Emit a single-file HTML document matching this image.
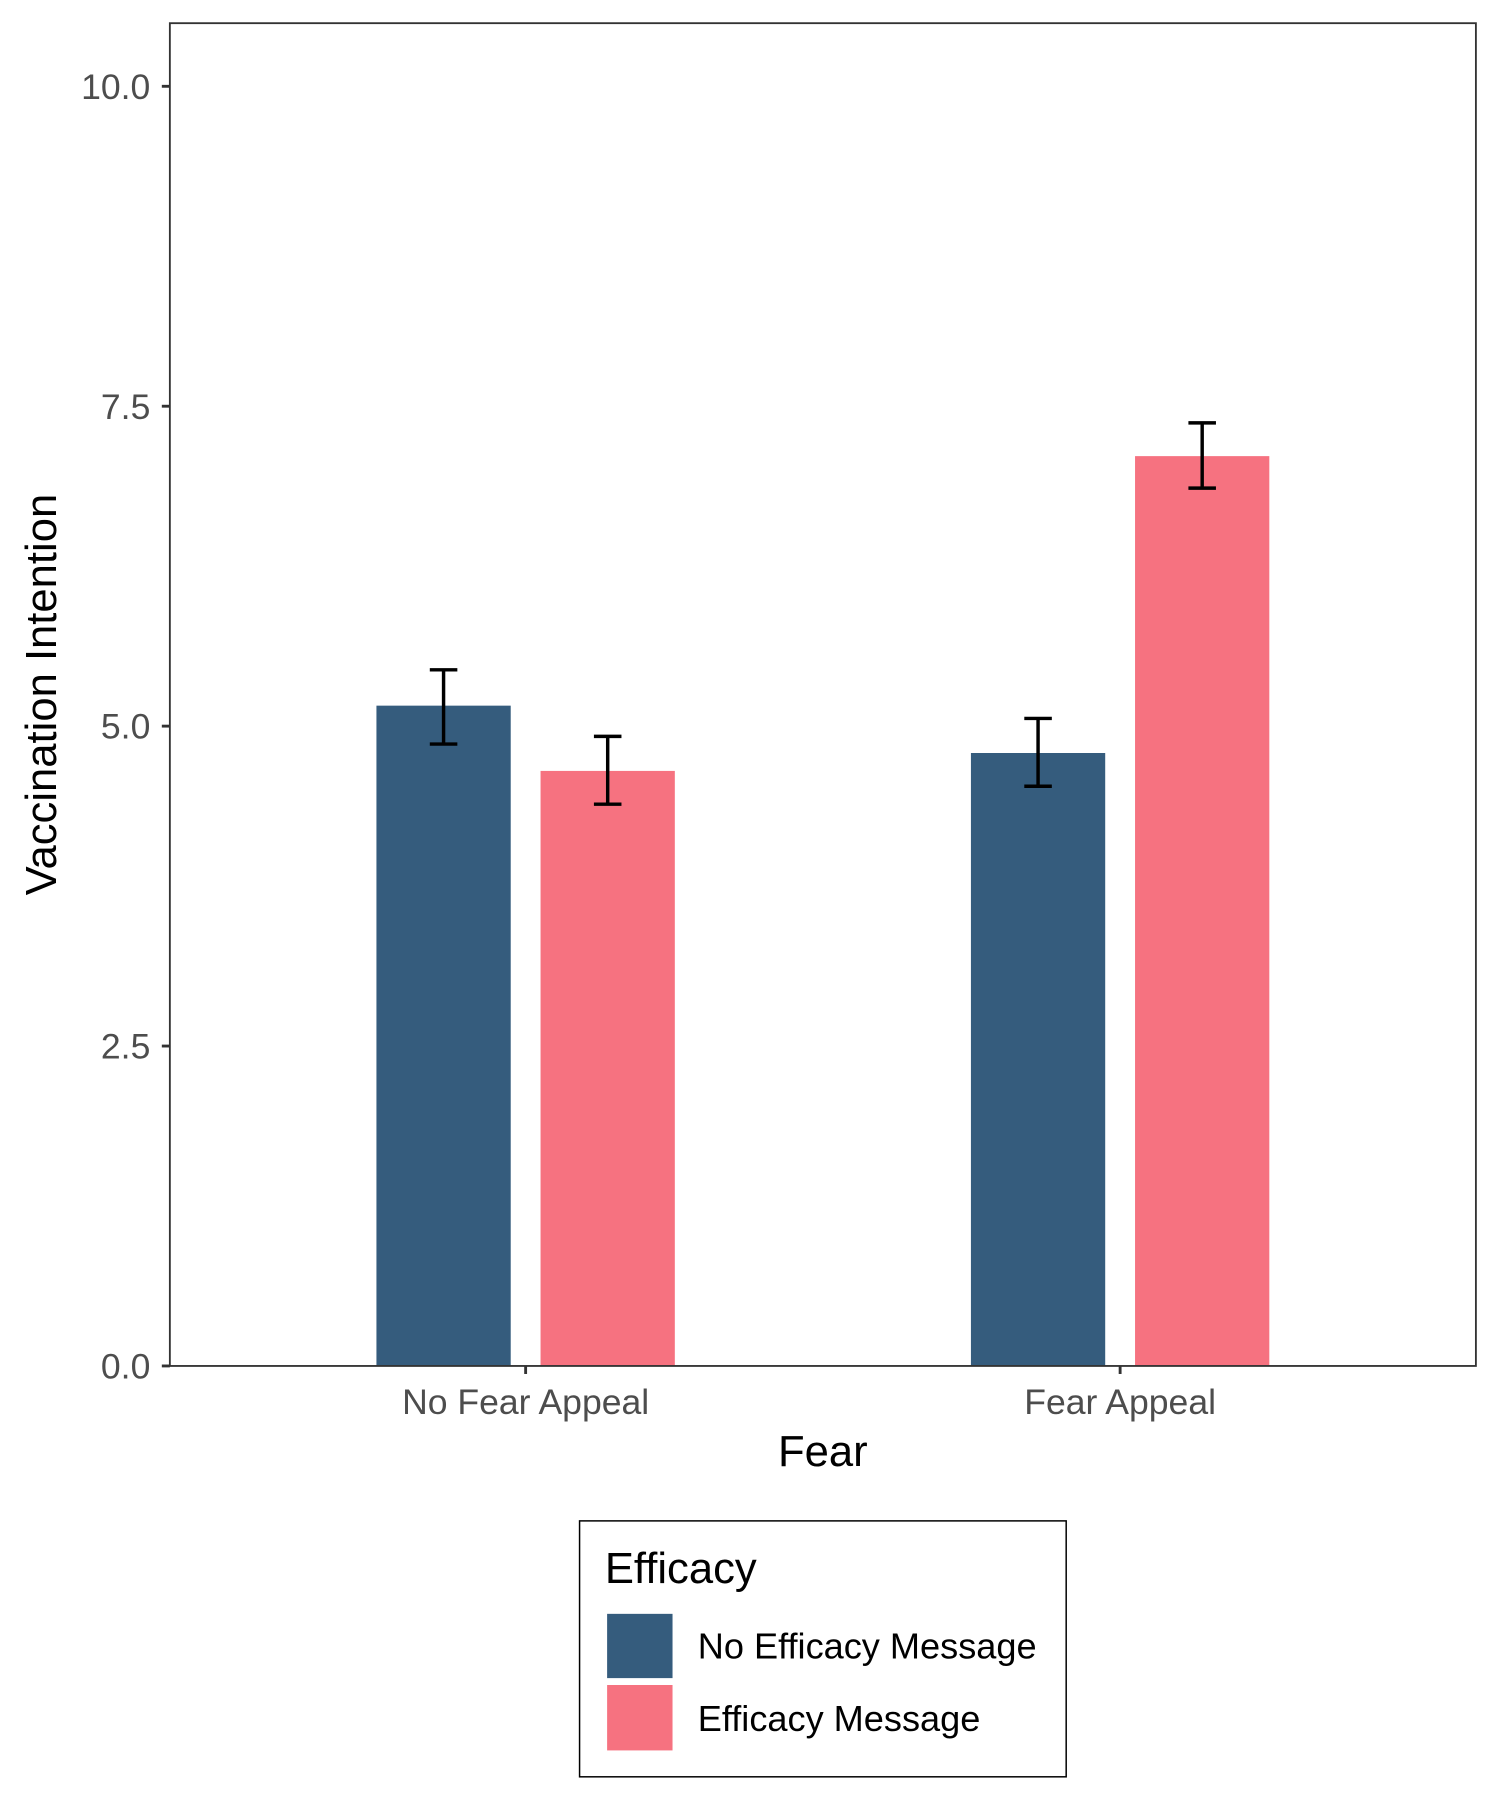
<!DOCTYPE html>
<html><head><meta charset="utf-8">
<style>
html,body{margin:0;padding:0;background:#fff;}
svg{display:block;font-family:"Liberation Sans",sans-serif;}
</style></head>
<body>
<svg id="chart" width="1500" height="1800" viewBox="0 0 1307 1568" xmlns="http://www.w3.org/2000/svg">
<rect x="0" y="0" width="1307" height="1568" fill="#fff"/>
<g id="marks"></g>
<rect x="148" y="20" width="1138" height="1170" fill="none" stroke="#333" stroke-width="1.6"/>
<text x="717" y="1277" font-size="38" text-anchor="middle" fill="#000">Fear</text>
<text transform="translate(49,605) rotate(-90)" font-size="38" text-anchor="middle" fill="#000">Vaccination Intention</text>
<g>
<rect x="505" y="1325" width="424" height="223" fill="#fff" stroke="#000" stroke-width="1.3"/>
<text x="527" y="1379" font-size="38" fill="#000">Efficacy</text>
<rect x="529" y="1406" width="57" height="56" fill="#355C7D"/>
<rect x="529" y="1468" width="57" height="57" fill="#F67280"/>
<text x="608" y="1445" font-size="31.5" fill="#000">No Efficacy Message</text>
<text x="608" y="1508" font-size="31.5" fill="#000">Efficacy Message</text>
</g>
</svg>
<script>
const categories = ["No Fear Appeal", "Fear Appeal"];
const seriesNames = ["No Efficacy Message", "Efficacy Message"];
const seriesColors = ["#355C7D", "#F67280"];
const noEfficacyValues = [5.16, 4.79];
const efficacyValues = [4.65, 7.11];
const noEfficacyLower = [4.86, 4.53];
const noEfficacyUpper = [5.44, 5.06];
const efficacyLower = [4.39, 6.86];
const efficacyUpper = [4.92, 7.37];
const yTicks = [0, 2.5, 5, 7.5, 10];
const yTickLabels = ["0.0", "2.5", "5.0", "7.5", "10.0"];

const NS = "http://www.w3.org/2000/svg";
const g = document.getElementById("marks");
const y0 = 1190, yUnit = 111.5;
function yScale(v){ return y0 - v * yUnit; }
const groupCenters = [458, 976];
function xScale(i){ return groupCenters[i]; }
const barW = 117, offset = 71.5;
function mk(tag, attrs){ const e = document.createElementNS(NS, tag); for (const k in attrs) e.setAttribute(k, attrs[k]); g.appendChild(e); return e; }

yTicks.forEach((t, i) => {
  const yy = yScale(t);
  const tk = mk("line", {x1:141, x2:148, y1:yy, y2:yy, stroke:"#333", "stroke-width":2.5});
  
  
  const lb = mk("text", {x:131, y:yy+11, "font-size":31, "text-anchor":"end", fill:"#4d4d4d"});
  lb.textContent = yTickLabels[i];
  
  
});

const vals = [noEfficacyValues, efficacyValues];
const lows = [noEfficacyLower, efficacyLower];
const ups = [noEfficacyUpper, efficacyUpper];
categories.forEach((c, i) => {
  const cx = xScale(i);
  const tk = mk("line", {x1:cx, x2:cx, y1:1190, y2:1197, stroke:"#333", "stroke-width":2.5});
  
  
  const lb = mk("text", {x:cx, y:1232, "font-size":31, "text-anchor":"middle", fill:"#4d4d4d"});
  lb.textContent = c;
  
  
  for (let s = 0; s < 2; s++) {
    const bc = cx + (s === 0 ? -offset : offset);
    const v = vals[s][i];
    const r = mk("rect", {x:bc - barW/2, y:yScale(v), width:barW, height:y0 - yScale(v), fill:seriesColors[s]});
    
    
    const lo = yScale(lows[s][i]), hi = yScale(ups[s][i]);
    const eb = mk("path", {d:`M${bc-12},${hi}H${bc+12}M${bc},${hi}V${lo}M${bc-12},${lo}H${bc+12}`, stroke:"#000", "stroke-width":3, fill:"none"});
    
    
  }
});
</script>
</body></html>
